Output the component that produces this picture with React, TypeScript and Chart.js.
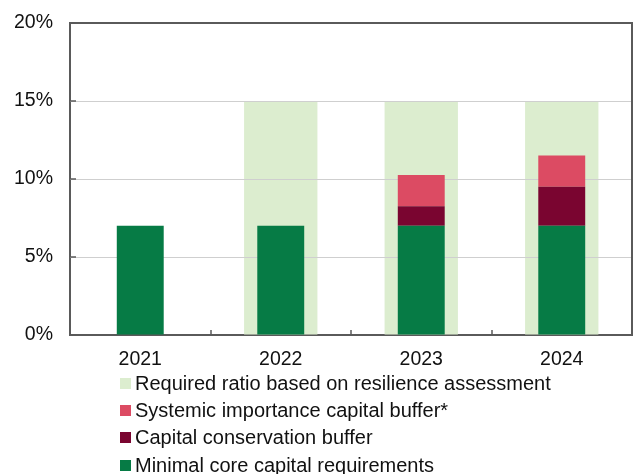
import React, { useEffect, useRef } from "react";
import { Chart, registerables } from "chart.js";

Chart.register(...registerables);

const categories = ["2021", "2022", "2023", "2024"];
const minimalCore = [7, 7, 7, 7];
const conservationBuffer = [null, null, 1.25, 2.5];
const systemicBuffer = [null, null, 2, 2];
const requiredRatio = [null, 15, 15, 15];
const yTicks = [0, 5, 10, 15, 20];

const legendItems = [
  { label: "Required ratio based on resilience assessment", color: "#DCEDCF" },
  { label: "Systemic importance capital buffer*", color: "#DC4B63" },
  { label: "Capital conservation buffer", color: "#7A0530" },
  { label: "Minimal core capital requirements", color: "#067B45" },
];

const FONT = "'Liberation Sans', Arial, sans-serif";
const AXIS = "#5a5a5a";

const framePlugin = {
  id: "frame",
  afterDatasetDraw(chart: any, args: any) {
    if (args.index !== 3) return;
    const { ctx, chartArea } = chart;
    const y = chart.scales.y;
    ctx.save();
    ctx.strokeStyle = "#cfcfcf";
    ctx.lineWidth = 1;
    for (const v of yTicks) {
      if (v === 0 || v === 20) continue;
      const py = Math.round(y.getPixelForValue(v)) + 0.5;
      ctx.beginPath();
      ctx.moveTo(chartArea.left, py);
      ctx.lineTo(chartArea.right, py);
      ctx.stroke();
    }
    ctx.restore();
  },
  afterDatasetsDraw(chart: any) {
    const { ctx, chartArea } = chart;
    const y = chart.scales.y;
    const x = chart.scales.x;
    ctx.save();
    ctx.strokeStyle = AXIS;
    ctx.lineWidth = 2;
    ctx.beginPath();
    ctx.moveTo(chartArea.left, chartArea.top);
    ctx.lineTo(chartArea.right, chartArea.top);
    ctx.lineTo(chartArea.right, chartArea.bottom);
    ctx.stroke();
    ctx.lineWidth = 1.5;
    for (const v of yTicks) {
      const py = y.getPixelForValue(v);
      ctx.beginPath();
      ctx.moveTo(chartArea.left, py);
      ctx.lineTo(chartArea.left + 6, py);
      ctx.stroke();
    }
    for (let i = 0; i < categories.length - 1; i++) {
      const px = Math.round((x.getPixelForTick(i) + x.getPixelForTick(i + 1)) / 2);
      ctx.beginPath();
      ctx.moveTo(px, chartArea.bottom);
      ctx.lineTo(px, chartArea.bottom - 5);
      ctx.stroke();
    }
    ctx.restore();
  },
};

export default function App() {
  const ref = useRef<HTMLCanvasElement | null>(null);

  useEffect(() => {
    if (!ref.current) return;
    const common = { grouped: false, categoryPercentage: 1, borderWidth: 0 };
    const chart = new Chart(ref.current, {
      type: "bar",
      data: {
        labels: categories,
        datasets: [
          { label: legendItems[3].label, data: minimalCore, backgroundColor: legendItems[3].color, stack: "main", barPercentage: 0.334, ...common },
          { label: legendItems[2].label, data: conservationBuffer, backgroundColor: legendItems[2].color, stack: "main", barPercentage: 0.334, ...common },
          { label: legendItems[1].label, data: systemicBuffer, backgroundColor: legendItems[1].color, stack: "main", barPercentage: 0.334, ...common },
          { label: legendItems[0].label, data: requiredRatio, backgroundColor: legendItems[0].color, stack: "bg", barPercentage: 0.522, ...common },
        ] as any,
      },
      options: {
        responsive: false,
        animation: false,
        devicePixelRatio: 1,
        layout: { padding: { top: 23, right: 1, left: 0, bottom: 0 } },
        plugins: { legend: { display: false }, tooltip: { enabled: false } },
        scales: {
          x: {
            stacked: true,
            grid: { display: true, drawOnChartArea: false, drawTicks: false },
            border: { display: true, color: AXIS, width: 2 },
            ticks: { color: "#111", font: { family: FONT, size: 19.5 }, padding: 13 },
            afterFit: (s: any) => { s.height = 139; s.paddingLeft = 0; s.paddingRight = 0; },
          },
          y: {
            stacked: true,
            min: 0,
            max: 20,
            grid: { display: true, drawOnChartArea: false, drawTicks: false },
            border: { display: true, color: AXIS, width: 2 },
            ticks: {
              stepSize: 5,
              color: "#111",
              font: { family: FONT, size: 19.5 },
              padding: 17,
              callback: (v: any) => v + "%",
            },
            afterFit: (s: any) => { s.width = 70; s.paddingTop = 0; s.paddingBottom = 0; },
          },
        },
      } as any,
      plugins: [framePlugin],
    });
    return () => chart.destroy();
  }, []);

  return (
    <div style={{ position: "absolute", left: 0, top: 0, width: 633, height: 474, overflow: "hidden", background: "#fff" }}>
      <canvas ref={ref} width={633} height={474} style={{ display: "block" }} />
      {legendItems.map((it, i) => (
        <div
          key={it.label}
          style={{
            position: "absolute",
            left: 120,
            top: 370 + i * 27.2,
            height: 27.2,
            lineHeight: "27.2px",
            display: "flex",
            alignItems: "center",
            fontFamily: FONT,
            fontSize: 20,
            color: "#111",
            whiteSpace: "nowrap",
          }}
        >
          <span style={{ display: "inline-block", width: 11, height: 11, background: it.color, marginRight: 4 }} />
          <span>{it.label}</span>
        </div>
      ))}
    </div>
  );
}
